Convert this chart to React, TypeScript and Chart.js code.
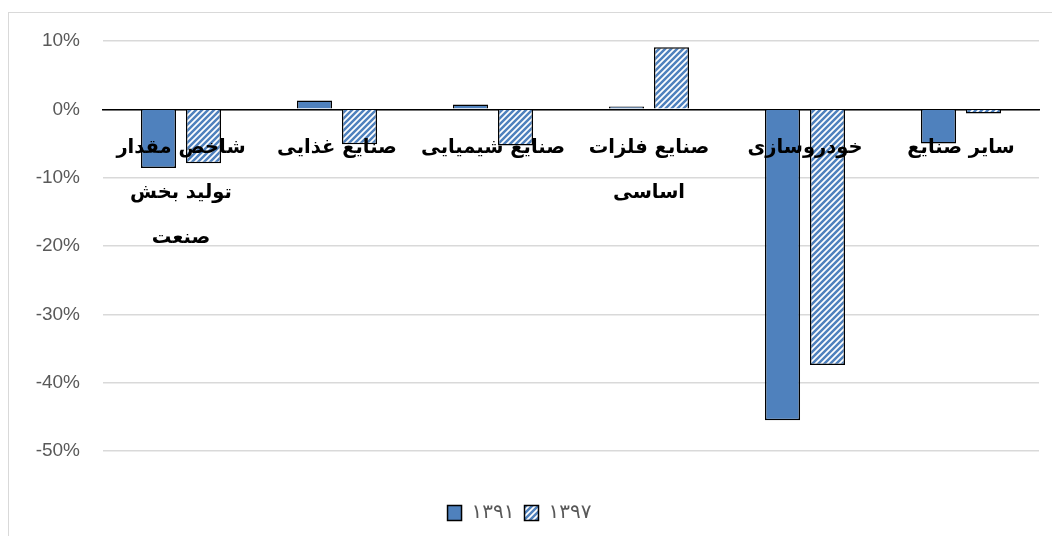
import React, { useEffect, useRef } from 'react';
import { Chart, registerables } from 'chart.js';

Chart.register(...registerables);

const categories: (string | string[])[] = [
  ['شاخص مقدار', 'تولید بخش', 'صنعت'],
  'صنایع غذایی',
  'صنایع شیمیایی',
  ['صنایع فلزات', 'اساسی'],
  'خودروسازی',
  'سایر صنایع',
];
const seriesNames = ['۱۳۹۱', '۱۳۹۷'];
const values1391 = [-8.6, 1.3, 0.7, 0.4, -45.5, -5.0];
const values1397 = [-7.9, -5.1, -5.3, 9.1, -37.4, -0.6];
const yMin = -50;
const yMax = 10;
const yStep = 10;

const BLUE = '#4F81BD';

function makeStripePattern(): CanvasPattern | string {
  const size = 6;
  const c = document.createElement('canvas');
  c.width = size;
  c.height = size;
  const g = c.getContext('2d');
  if (!g) return BLUE;
  g.fillStyle = '#ffffff';
  g.fillRect(0, 0, size, size);
  g.strokeStyle = BLUE;
  g.lineWidth = 2.5;
  g.beginPath();
  g.moveTo(-1, size + 1);
  g.lineTo(size + 1, -1);
  g.moveTo(-1, 1);
  g.lineTo(1, -1);
  g.moveTo(size - 1, size + 1);
  g.lineTo(size + 1, size - 1);
  g.stroke();
  const p = g.createPattern(c, 'repeat');
  return p || BLUE;
}

export default function App() {
  const ref = useRef<HTMLCanvasElement | null>(null);

  useEffect(() => {
    if (!ref.current) return;
    const pattern = makeStripePattern();
    const chart = new Chart(ref.current, {
      type: 'bar',
      data: {
        labels: categories,
        datasets: [
          {
            label: seriesNames[0],
            data: values1391,
            backgroundColor: BLUE,
            borderColor: '#000000',
            borderWidth: 1.5,
            categoryPercentage: 0.577,
            barPercentage: 0.78,
          },
          {
            label: seriesNames[1],
            data: values1397,
            backgroundColor: pattern as any,
            borderColor: '#000000',
            borderWidth: 1.5,
            categoryPercentage: 0.577,
            barPercentage: 0.78,
          },
        ],
      },
      options: {
        responsive: false,
        animation: false,
        layout: { padding: { left: 0, top: 41, right: 13, bottom: 3 } },
        plugins: {
          tooltip: { enabled: false },
          legend: {
            position: 'bottom',
            title: {
              display: true,
              text: '',
              font: { size: 10, lineHeight: 1 },
              padding: { top: 32, bottom: 0 },
            },
            labels: {
              boxWidth: 14,
              boxHeight: 15,
              padding: 10,
              color: '#595959',
              font: { family: 'DejaVu Sans', size: 20 },
            },
          },
        },
        scales: {
          x: {
            position: { y: 0 } as any,
            grid: { display: false, drawTicks: false },
            border: { display: true, color: '#000000', width: 1.5 },
            ticks: {
              z: 1,
              autoSkip: false,
              maxRotation: 0,
              minRotation: 0,
              padding: 16,
              color: '#000000',
              font: { family: 'DejaVu Sans', size: 19.5, weight: 'bold', lineHeight: 2.3 },
            } as any,
          },
          y: {
            min: yMin,
            max: yMax,
            afterFit: (s: any) => {
              s.width = 103;
            },
            grid: { color: '#d9d9d9', lineWidth: 1.5, drawTicks: false },
            border: { display: false },
            ticks: {
              stepSize: yStep,
              padding: 23,
              color: '#595959',
              font: { family: 'Liberation Sans', size: 19 },
              callback: (v: any) => `${v}%`,
            },
          },
        },
      },
    });
    return () => chart.destroy();
  }, []);

  return (
    <div style={{ position: 'fixed', left: 0, top: 0, width: 1052, height: 536, overflow: 'hidden', background: '#fff' }}>
      <div
        style={{
          position: 'absolute',
          left: 8,
          top: 12,
          width: 1100,
          height: 600,
          border: '1px solid #d9d9d9',
          boxSizing: 'border-box',
        }}
      />
      <canvas ref={ref} width={1052} height={536} style={{ position: 'absolute', left: 0, top: 0 }} />
    </div>
  );
}
